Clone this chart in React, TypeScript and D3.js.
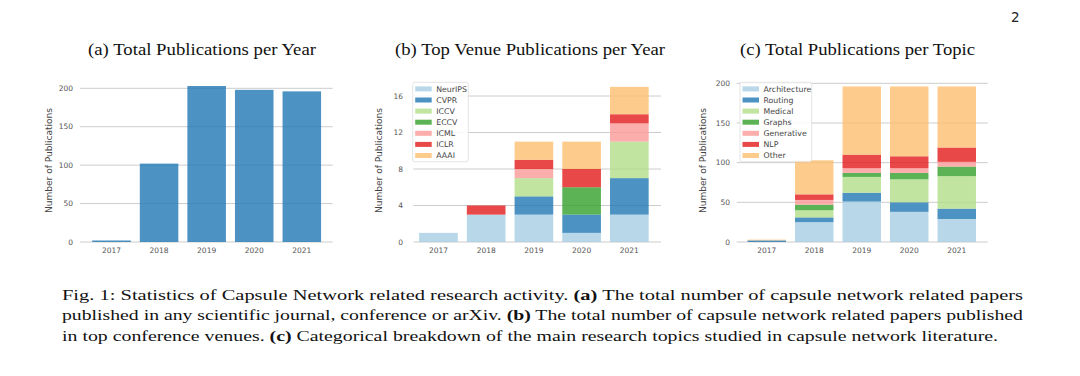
import React, { useRef, useEffect } from "react";
import * as d3 from "d3";

// years on the x axis of every panel
const years = ["2017", "2018", "2019", "2020", "2021"];

// (a) total publications per year
const totalPubs = [2, 102, 203, 198, 196];

// (b) top venue publications per year
const venues = ["NeurIPS", "CVPR", "ICCV", "ECCV", "ICML", "ICLR", "AAAI"];
const neurips = [1, 3, 3, 1, 3];
const cvpr = [0, 0, 2, 2, 4];
const iccv = [0, 0, 2, 0, 4];
const eccv = [0, 0, 0, 3, 0];
const icml = [0, 0, 1, 0, 2];
const iclr = [0, 1, 1, 2, 1];
const aaai = [0, 0, 2, 3, 3];
const venueTicks = [0, 4, 8, 12, 16];

// (c) total publications per topic
const topics = ["Architecture", "Routing", "Medical", "Graphs", "Generative", "NLP", "Other"];
const architecture = [0, 25, 51, 38, 29];
const routing = [2, 6, 11, 12, 13];
const medical = [0, 9, 20, 29, 41];
const graphs = [0, 7, 5, 8, 12];
const generative = [0, 6, 6, 6, 6];
const nlp = [0, 7, 17, 15, 18];
const other = [1, 43, 86, 88, 77];
const pubTicks = [0, 50, 100, 150, 200];

const paired = ["#a6cee3", "#1f78b4", "#b2df8a", "#33a02c", "#fb9a99", "#e31a1c", "#fdbf6f"];

const captionLines = [
  ["Fig. 1: Statistics of Capsule Network related research activity. ", "(a)", " The total number of capsule network related papers"],
  ["published in any scientific journal, conference or arXiv. ", "(b)", " The total number of capsule network related papers published"],
  ["in top conference venues. ", "(c)", " Categorical breakdown of the main research topics studied in capsule network literature."],
];

const SANS = "'DejaVu Sans', sans-serif";
const SERIF = "'Liberation Serif', 'DejaVu Serif', serif";

function App() {
  let svgRef = useRef(null);

  const draw = () => {
    const svg = d3.select(svgRef.current);
    svg.selectAll("*").remove();

    // one panel: gridlines, ticks, bars, legend
    const panel = (cfg) => {
      const g = svg.append("g");
      const x = d3.scaleBand().domain(years).range(cfg.xRange).paddingInner(0.19).paddingOuter(0.095);
      const y = d3.scaleLinear().domain([0, cfg.yMax]).range([242, cfg.yTop]);

      // gridlines
      g.selectAll(".grid")
        .data(cfg.ticks)
        .join("line")
        .attr("x1", cfg.gridX[0])
        .attr("x2", cfg.gridX[1])
        .attr("y1", (d) => y(d))
        .attr("y2", (d) => y(d))
        .attr("stroke", "#cccccc")
        .attr("stroke-width", 1);

      // y tick labels
      g.selectAll(".ytick")
        .data(cfg.ticks)
        .join("text")
        .attr("x", cfg.tickX)
        .attr("y", (d) => y(d) + 2.6)
        .attr("text-anchor", "end")
        .attr("font-family", SANS)
        .attr("font-size", 7.5)
        .attr("fill", "#555")
        .text((d) => d);

      // x tick labels
      g.selectAll(".xtick")
        .data(years)
        .join("text")
        .attr("x", (d) => x(d) + x.bandwidth() / 2)
        .attr("y", 253)
        .attr("text-anchor", "middle")
        .attr("font-family", SANS)
        .attr("font-size", 7.5)
        .attr("fill", "#555")
        .text((d) => d);

      // y axis label
      g.append("text")
        .attr("transform", "translate(" + cfg.labelX + ",160.5) rotate(-90)")
        .attr("text-anchor", "middle")
        .attr("font-family", SANS)
        .attr("font-size", 8.5)
        .attr("fill", "#444")
        .attr("textLength", 105)
        .attr("lengthAdjust", "spacingAndGlyphs")
        .text("Number of Publications");

      // stacked bars
      const keys = cfg.series.map((s) => s.name);
      const rows = years.map((yr, i) => {
        const r = { year: yr };
        cfg.series.forEach((s) => (r[s.name] = s.values[i]));
        return r;
      });
      const stacked = d3.stack().keys(keys)(rows);
      g.selectAll(".layer")
        .data(stacked)
        .join("g")
        .attr("fill", (d, i) => cfg.series[i].color)
        .attr("fill-opacity", 0.8)
        .selectAll("rect")
        .data((d) => d)
        .join("rect")
        .attr("x", (d) => x(d.data.year))
        .attr("width", x.bandwidth())
        .attr("y", (d) => y(d[1]))
        .attr("height", (d) => y(d[0]) - y(d[1]));

      // legend
      if (cfg.legend) {
        const L = cfg.legend;
        g.append("rect")
          .attr("x", L.x)
          .attr("y", 82.3)
          .attr("width", L.w)
          .attr("height", 79.4)
          .attr("rx", 2)
          .attr("fill", "white")
          .attr("fill-opacity", 0.85)
          .attr("stroke", "#dddddd")
          .attr("stroke-width", 0.8);
        const item = g
          .selectAll(".leg")
          .data(cfg.series)
          .join("g")
          .attr("transform", (d, i) => "translate(" + (L.x + 2.5) + "," + (89 + i * 11.1) + ")");
        item
          .append("rect")
          .attr("x", 0)
          .attr("y", -2.6)
          .attr("width", 16.5)
          .attr("height", 5)
          .attr("fill", (d) => d.color)
          .attr("fill-opacity", 0.8);
        item
          .append("text")
          .attr("x", 21)
          .attr("y", 2.7)
          .attr("font-family", SANS)
          .attr("font-size", 7.8)
          .attr("fill", "#444")
          .text((d) => d.name);
      }

      // title
      svg
        .append("text")
        .attr("x", cfg.titleX)
        .attr("y", 55)
        .attr("text-anchor", "middle")
        .attr("font-family", SERIF)
        .attr("font-size", 17.5)
        .attr("fill", "#111")
        .attr("textLength", cfg.titleW)
        .attr("lengthAdjust", "spacingAndGlyphs")
        .text(cfg.title);
    };

    panel({
      title: "(a) Total Publications per Year",
      titleX: 202,
      titleW: 228,
      xRange: [87.7, 325.6],
      gridX: [80, 332.7],
      yMax: 200,
      yTop: 88.3,
      ticks: pubTicks,
      tickX: 73,
      labelX: 52,
      series: [{ name: "Total", values: totalPubs, color: "#1f77b4" }],
    });

    const venueValues = [neurips, cvpr, iccv, eccv, icml, iclr, aaai];
    panel({
      title: "(b) Top Venue Publications per Year",
      titleX: 530,
      titleW: 270,
      xRange: [414.6, 653.2],
      gridX: [413.3, 661],
      yMax: 16,
      yTop: 96,
      ticks: venueTicks,
      tickX: 403,
      labelX: 382,
      series: venues.map((v, i) => ({ name: v, values: venueValues[i], color: paired[i] })),
      legend: { x: 412.7, w: 55.6 },
    });

    const topicValues = [architecture, routing, medical, graphs, generative, nlp, other];
    panel({
      title: "(c) Total Publications per Topic",
      titleX: 857.5,
      titleW: 235,
      xRange: [743, 980.5],
      gridX: [736.7, 987.7],
      yMax: 200,
      yTop: 83.3,
      ticks: pubTicks,
      tickX: 730,
      labelX: 706,
      series: topics.map((t, i) => ({ name: t, values: topicValues[i], color: paired[i] })),
      legend: { x: 740, w: 71.7 },
    });

    // page number
    svg
      .append("text")
      .attr("x", 1011)
      .attr("y", 22.3)
      .attr("font-family", SANS)
      .attr("font-size", 13.5)
      .attr("fill", "#222")
      .text("2");

    // caption
    const widths = [961, 961, 936];
    captionLines.forEach((parts, i) => {
      const t = svg
        .append("text")
        .attr("x", 62)
        .attr("y", 299.5 + i * 20.8)
        .attr("font-family", SERIF)
        .attr("font-size", 15.5)
        .attr("fill", "#111")
        .attr("textLength", widths[i])
        .attr("lengthAdjust", "spacingAndGlyphs");
      parts.forEach((p, j) => {
        t.append("tspan")
          .attr("font-weight", j === 1 ? "bold" : "normal")
          .text(p);
      });
    });
  };

  useEffect(() => {
    draw();
  });

  return (
    <svg
      ref={svgRef}
      width={1080}
      height={376}
      style={{ position: "absolute", left: 0, top: 0, background: "white" }}
    ></svg>
  );
}

export default App;
